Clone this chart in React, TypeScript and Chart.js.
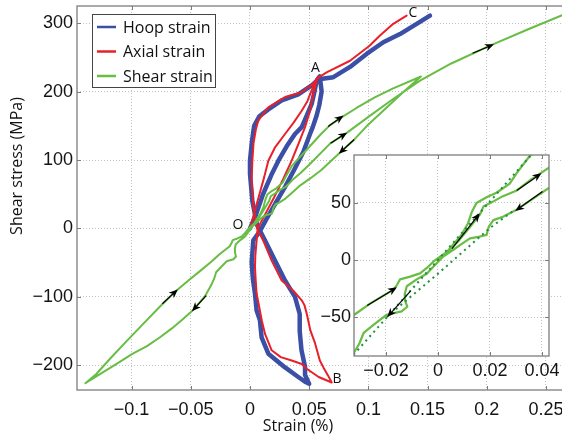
import React, { useEffect, useRef } from "react";
import { Chart, registerables } from "chart.js";

Chart.register(...registerables);

// ---------- axis ticks ----------
const xTicks = [-0.1, -0.05, 0, 0.05, 0.1, 0.15, 0.2, 0.25];
const xTickLabels = ["\u22120.1", "\u22120.05", "0", "0.05", "0.1", "0.15", "0.2", "0.25"];
const yTicks = [-200, -100, 0, 100, 200, 300];
const yTickLabels = ["\u2212200", "\u2212100", "0", "100", "200", "300"];
const insetXTicks = [-0.02, 0, 0.02, 0.04];
const insetXTickLabels = ["\u22120.02", "0", "0.02", "0.04"];
const insetYTicks = [-50, 0, 50];
const insetYTickLabels = ["\u221250", "0", "50"];

// ---------- series names ----------
const seriesNames = ["Hoop strain", "Axial strain", "Shear strain"];

// ---------- hoop strain (O -> A -> B -> C) ----------
const hoopStrain = [
  0, 0.005, 0.011, 0.018, 0.024, 0.031, 0.038, 0.0437, 0.048, 0.0521, 0.0545, 0.0563, 0.059,
  0.0605, 0.0585, 0.0563, 0.053, 0.0507, 0.0451, 0.038, 0.03, 0.022, 0.014, 0.008, 0.0028, 0.0014,
  0.0025, 0.0042, 0.0056, 0.0084, 0.0098, 0.0155, 0.0296, 0.0408, 0.0465, 0.05,
  0.0465, 0.0465, 0.0435, 0.042, 0.042, 0.038, 0.0296, 0.0211, 0.0127, 0.006, 0.002, 0.0, 0.0,
  0.0015, 0.0035, 0.008, 0.0155, 0.0268, 0.0408, 0.0521, 0.058, 0.0704, 0.0845, 0.0985, 0.1126,
  0.1267, 0.1408, 0.152,
];
const hoopStress = [
  0, 20, 50, 78, 99, 120, 138, 148, 165, 182, 200, 216, 222,
  200, 180, 165, 148, 138, 112, 88, 62, 38, 14, -5, -17.5, -50,
  -75, -95, -120, -134, -159, -183, -203, -217, -224, -227,
  -214, -202, -178, -150, -125, -100, -76, -47, -17.5, 5, 40, 80, 99,
  125, 150, 164, 174, 187, 196, 209, 218, 221, 236, 255, 272,
  284, 299, 311,
];

// ---------- axial strain (O -> A -> B -> C) ----------
const axialStrain = [
  0, 0.004, 0.008, 0.012, 0.0155, 0.021, 0.0296, 0.037, 0.0437, 0.0485, 0.0507, 0.0535, 0.056, 0.0575,
  0.0555, 0.0535, 0.0507, 0.0465, 0.041, 0.0352, 0.028, 0.02, 0.012, 0.0065, 0.0056, 0.0045, 0.0042,
  0.0048, 0.0056, 0.0084, 0.0099, 0.0127, 0.0183, 0.026, 0.0352, 0.0437, 0.0479, 0.058, 0.069,
  0.066, 0.062, 0.059, 0.055, 0.051, 0.048, 0.046, 0.0437, 0.0366, 0.0268, 0.0183, 0.0113, 0.006,
  0.003, 0.0014, 0.002, 0.003, 0.005, 0.007, 0.0155, 0.0296, 0.0437, 0.0535, 0.0575, 0.0647, 0.0845,
  0.101, 0.1098, 0.121, 0.1323,
];
const axialStress = [
  0, 25, 50, 75, 99, 118, 138, 155, 172, 186, 196, 208, 218, 222,
  210, 196, 172, 148, 124, 99, 72, 44, 18, 0, -17.5, -40, -56,
  -75, -95, -120, -134, -154, -178, -188, -193, -198, -205, -217, -225,
  -215, -203, -193, -168, -149, -125, -112, -105, -91, -76, -47, -18, 0,
  30, 70, 99, 125, 145, 158, 177, 192, 199, 212, 220, 228, 245,
  267, 282, 299, 311,
];

// ---------- shear strain (O -> A -> B -> C) ----------
const shearStrain = [
  0, 0.003, 0.006, 0.009, 0.0115, 0.013, 0.0148, 0.0187, 0.0225, 0.0276, 0.0302, 0.0352, 0.042,
  0.05, 0.06, 0.0676, 0.078, 0.09, 0.105, 0.12, 0.1444,
  0.13, 0.115, 0.1, 0.087, 0.0743, 0.06, 0.05, 0.0425, 0.036, 0.0302, 0.025, 0.0213, 0.0195, 0.0187,
  0.015, 0.0123, 0.009, 0.0059, 0.002, -0.0018, -0.0043, -0.0082, -0.012, -0.0128, -0.0126, -0.0118,
  -0.014, -0.0197, -0.0248, -0.0286, -0.0302, -0.0325, -0.038, -0.048, -0.057, -0.066, -0.076,
  -0.087, -0.099, -0.112, -0.125, -0.139,
  -0.13, -0.118, -0.105, -0.09, -0.076, -0.063, -0.052, -0.042, -0.0322, -0.026, -0.0171, -0.0158,
  -0.0146, -0.0107, -0.0069, -0.0043, -0.0018, 0.0008, 0.004, 0.008, 0.012, 0.0162, 0.0175, 0.021,
  0.025, 0.0303, 0.036, 0.0427, 0.05, 0.0676, 0.082, 0.1, 0.12, 0.1436, 0.17, 0.2027, 0.235, 0.27,
];
const shearStress = [
  0, 6, 14, 22, 32, 42, 50, 55, 59, 67, 76, 91, 104,
  119, 138, 151, 163, 176, 191, 204, 222,
  200, 176, 152, 128, 108, 85, 72, 63, 53, 44, 38, 35, 29, 22,
  20, 19, 14, 9, 3, -6, -12, -17, -23, -30, -36, -41,
  -45, -48, -57, -64, -73, -82, -99, -119, -133, -146, -159,
  -172, -183, -197, -211, -226,
  -213, -190, -166, -139, -114, -92, -76, -62, -48, -38, -26, -22,
  -17, -14.6, -11.7, -7, -1.5, 3, 8, 17, 28, 40, 47, 51,
  56, 61, 71, 81, 93, 124, 140, 163, 188, 216, 241, 267, 291, 316,
];

// ---------- dotted reference lines (inset) ----------
const fitStrainA = [-0.034, 0.037];
const fitStressA = [-87, 95];
const fitStrainB = [-0.0197, 0.0, 0.0199, 0.0295];
const fitStressB = [-50, -12, 28, 44];

// ---------- direction arrows [x1, y1, x2, y2] in data units ----------
const mainArrows = [
  [0.066, 149, 0.079, 165],
  [0.068, 124.5, 0.082, 140],
  [0.088, 130, 0.075, 109],
  [0.188, 256, 0.206, 269],
  [-0.074, -110, -0.061, -89],
  [-0.037, -98, -0.049, -121],
];
const insetArrows = [
  [0.0303, 61, 0.0398, 76],
  [0.0402, 60, 0.0297, 43],
  [0.0054, 10, 0.0161, 41],
  [-0.0272, -40, -0.0158, -24],
  [-0.0105, -27, -0.0195, -50],
];

// ---------- point labels ----------
const pointLabels = ["O", "A", "B", "C"];
const pointLabelX = [-0.0101, 0.0553, 0.0735, 0.1377];
const pointLabelY = [5, 234, -220, 315];

// ---------- styles ----------
const BLUE = "#3a4fa5";
const RED = "#e8202a";
const GREEN = "#68bd45";
const DARKGREEN = "#1f8f3a";
const TICK_FONT = { family: '"Liberation Sans", Arial, sans-serif', size: 18 };
const TEXT_FAMILY = '"Open Sans", "Noto Sans", sans-serif';

function pts(xs: number[], ys: number[]) {
  const n = Math.min(xs.length, ys.length);
  const out: { x: number; y: number }[] = [];
  for (let i = 0; i < n; i++) out.push({ x: xs[i], y: ys[i] });
  return out;
}

function lineDs(label: string, xs: number[], ys: number[], color: string, width: number, order: number, dash?: number[]) {
  return {
    label,
    data: pts(xs, ys),
    showLine: true,
    borderColor: color,
    backgroundColor: color,
    borderWidth: width,
    pointRadius: 0,
    pointHoverRadius: 0,
    tension: 0,
    fill: false,
    order,
    borderDash: dash || [],
    borderJoinStyle: "round",
    borderCapStyle: dash ? "butt" : "round",
  };
}

function makeScale(min: number, max: number, ticks: number[], labels: string[], axis: "x" | "y", size: number, padding: number) {
  return {
    type: "linear",
    min,
    max,
    bounds: "data",
    afterBuildTicks: (s: any) => {
      s.ticks = ticks.map((v) => ({ value: v }));
    },
    afterFit: (s: any) => {
      if (axis === "x") s.height = size;
      else s.width = size;
      s.paddingTop = 0;
      s.paddingBottom = 0;
      s.paddingLeft = 0;
      s.paddingRight = 0;
    },
    grid: { color: "#c2c2c2", lineWidth: 1, drawTicks: false },
    border: { display: false, dash: [1, 2] },
    ticks: {
      padding,
      color: "#141414",
      font: TICK_FONT,
      autoSkip: false,
      maxRotation: 0,
      callback: (_v: any, i: number) => labels[i],
    },
  };
}

function drawArrow(c: CanvasRenderingContext2D, x1: number, y1: number, x2: number, y2: number) {
  const dx = x2 - x1;
  const dy = y2 - y1;
  const L = Math.hypot(dx, dy);
  if (!L) return;
  const ux = dx / L;
  const uy = dy / L;
  const head = 9;
  const hw = 3.8;
  c.strokeStyle = "#000";
  c.fillStyle = "#000";
  c.lineWidth = 1.2;
  c.beginPath();
  c.moveTo(x1, y1);
  c.lineTo(x2 - ux * head * 0.7, y2 - uy * head * 0.7);
  c.stroke();
  const bx = x2 - ux * head;
  const by = y2 - uy * head;
  c.beginPath();
  c.moveTo(x2, y2);
  c.lineTo(bx - uy * hw, by + ux * hw);
  c.lineTo(x2 - ux * head * 0.7, y2 - uy * head * 0.7);
  c.lineTo(bx + uy * hw, by - ux * hw);
  c.closePath();
  c.fill();
}

function makeDecor(cfg: any) {
  return {
    id: "decor",
    beforeDraw(chart: any) {
      if (!cfg.areaFill) return;
      const a = chart.chartArea;
      const c = chart.ctx;
      c.save();
      c.fillStyle = cfg.areaFill;
      c.fillRect(a.left, a.top, a.right - a.left, a.bottom - a.top);
      c.restore();
    },
    afterDatasetsDraw(chart: any) {
      const c: CanvasRenderingContext2D = chart.ctx;
      const a = chart.chartArea;
      const xs = chart.scales.x;
      const ys = chart.scales.y;

      // arrows
      c.save();
      c.beginPath();
      c.rect(a.left, a.top, a.right - a.left, a.bottom - a.top);
      c.clip();
      (cfg.arrows || []).forEach((ar: number[]) => {
        drawArrow(c, xs.getPixelForValue(ar[0]), ys.getPixelForValue(ar[1]), xs.getPixelForValue(ar[2]), ys.getPixelForValue(ar[3]));
      });
      c.restore();

      // frame + inner tick marks
      c.save();
      c.strokeStyle = "#7d7d7d";
      c.lineWidth = 1.3;
      c.strokeRect(a.left, a.top, a.right - a.left, a.bottom - a.top);
      c.lineWidth = 1;
      c.beginPath();
      const tl = 4;
      xs.ticks.forEach((t: any) => {
        const p = Math.round(xs.getPixelForValue(t.value)) + 0.5;
        c.moveTo(p, a.bottom);
        c.lineTo(p, a.bottom - tl);
        c.moveTo(p, a.top);
        c.lineTo(p, a.top + tl);
      });
      ys.ticks.forEach((t: any) => {
        const p = Math.round(ys.getPixelForValue(t.value)) + 0.5;
        c.moveTo(a.left, p);
        c.lineTo(a.left + tl, p);
        c.moveTo(a.right, p);
        c.lineTo(a.right - tl, p);
      });
      c.stroke();
      c.restore();

      // point labels
      if (cfg.labels) {
        c.save();
        c.fillStyle = "#111";
        c.font = `14px ${TEXT_FAMILY}`;
        c.textAlign = "center";
        c.textBaseline = "middle";
        cfg.labels.text.forEach((t: string, i: number) => {
          c.fillText(t, xs.getPixelForValue(cfg.labels.x[i]), ys.getPixelForValue(cfg.labels.y[i]));
        });
        c.restore();
      }

      // legend
      if (cfg.legend) {
        const L = cfg.legend;
        c.save();
        c.fillStyle = "#fff";
        c.fillRect(L.x, L.y, L.w, L.h);
        c.strokeStyle = "#444";
        c.lineWidth = 1;
        c.strokeRect(L.x + 0.5, L.y + 0.5, L.w, L.h);
        c.font = `16px ${TEXT_FAMILY}`;
        c.textBaseline = "middle";
        c.textAlign = "left";
        L.items.forEach((it: any, i: number) => {
          const cy = L.y + L.first + i * L.row;
          c.strokeStyle = it.color;
          c.lineWidth = 2.5;
          c.beginPath();
          c.moveTo(L.x + 5, cy);
          c.lineTo(L.x + 24, cy);
          c.stroke();
          c.fillStyle = "#111";
          c.fillText(it.label, L.x + 31, cy + 1);
        });
        c.restore();
      }
    },
    afterDraw(chart: any) {
      if (!cfg.titles) return;
      const c: CanvasRenderingContext2D = chart.ctx;
      c.save();
      c.fillStyle = "#111";
      c.font = `16px ${TEXT_FAMILY}`;
      c.textAlign = "center";
      c.textBaseline = "middle";
      cfg.titles.forEach((t: any) => {
        c.save();
        c.translate(t.x, t.y);
        if (t.rot) c.rotate((t.rot * Math.PI) / 180);
        c.fillText(t.text, 0, 0);
        c.restore();
      });
      c.restore();
    },
  };
}

function mainConfig(): any {
  return {
    type: "scatter",
    data: {
      datasets: [
        lineDs(seriesNames[0], hoopStrain, hoopStress, BLUE, 4.5, 2),
        lineDs(seriesNames[1], axialStrain, axialStress, RED, 2, 1),
        lineDs(seriesNames[2], shearStrain, shearStress, GREEN, 2, 0),
      ],
    },
    options: {
      responsive: false,
      animation: false,
      events: [],
      layout: { padding: { top: 6, right: 4, left: 0, bottom: 0 }, autoPadding: false },
      scales: {
        x: makeScale(-0.1461, 0.2669, xTicks, xTickLabels, "x", 50, 9),
        y: makeScale(-236, 325, yTicks, yTickLabels, "y", 77, 4),
      },
      plugins: { legend: { display: false }, tooltip: { enabled: false } },
    },
    plugins: [
      makeDecor({
        arrows: mainArrows,
        labels: { text: pointLabels, x: pointLabelX, y: pointLabelY },
        legend: {
          x: 92, y: 14, w: 123, h: 73, first: 13, row: 24.5,
          items: [
            { label: seriesNames[0], color: BLUE },
            { label: seriesNames[1], color: RED },
            { label: seriesNames[2], color: GREEN },
          ],
        },
        titles: [
          { text: "Shear stress (MPa)", x: 17, y: 166, rot: -90 },
          { text: "Strain (%)", x: 298, y: 426 },
        ],
      }),
    ],
  };
}

function insetConfig(): any {
  return {
    type: "scatter",
    data: {
      datasets: [
        lineDs(seriesNames[2], shearStrain, shearStress, GREEN, 2.2, 1),
        lineDs("fit A", fitStrainA, fitStressA, DARKGREEN, 2, 0, [2, 4]),
        lineDs("fit B", fitStrainB, fitStressB, DARKGREEN, 2, 0, [2, 4]),
      ],
    },
    options: {
      responsive: false,
      animation: false,
      events: [],
      layout: { padding: { top: 15, right: 21, left: 0, bottom: 0 }, autoPadding: false },
      scales: {
        x: makeScale(-0.0323, 0.0427, insetXTicks, insetXTickLabels, "x", 34, 4),
        y: makeScale(-84.2, 92.1, insetYTicks, insetYTickLabels, "y", 54, 3),
      },
      plugins: { legend: { display: false }, tooltip: { enabled: false } },
    },
    plugins: [makeDecor({ areaFill: "#ffffff", arrows: insetArrows })],
  };
}

export default function App() {
  const mainRef = useRef<HTMLCanvasElement>(null);
  const insetRef = useRef<HTMLCanvasElement>(null);

  useEffect(() => {
    const m = new Chart(mainRef.current as HTMLCanvasElement, mainConfig());
    const i = new Chart(insetRef.current as HTMLCanvasElement, insetConfig());
    return () => {
      m.destroy();
      i.destroy();
    };
  }, []);

  return (
    <div
      style={{
        position: "fixed",
        left: 0,
        top: 0,
        width: 562,
        height: 440,
        overflow: "hidden",
        background: "#fff",
      }}
    >
      <canvas
        ref={mainRef}
        width={570}
        height={440}
        style={{ position: "absolute", left: 0, top: 0, width: 570, height: 440 }}
      />
      <canvas
        ref={insetRef}
        width={270}
        height={250}
        style={{ position: "absolute", left: 300, top: 140, width: 270, height: 250 }}
      />
    </div>
  );
}
